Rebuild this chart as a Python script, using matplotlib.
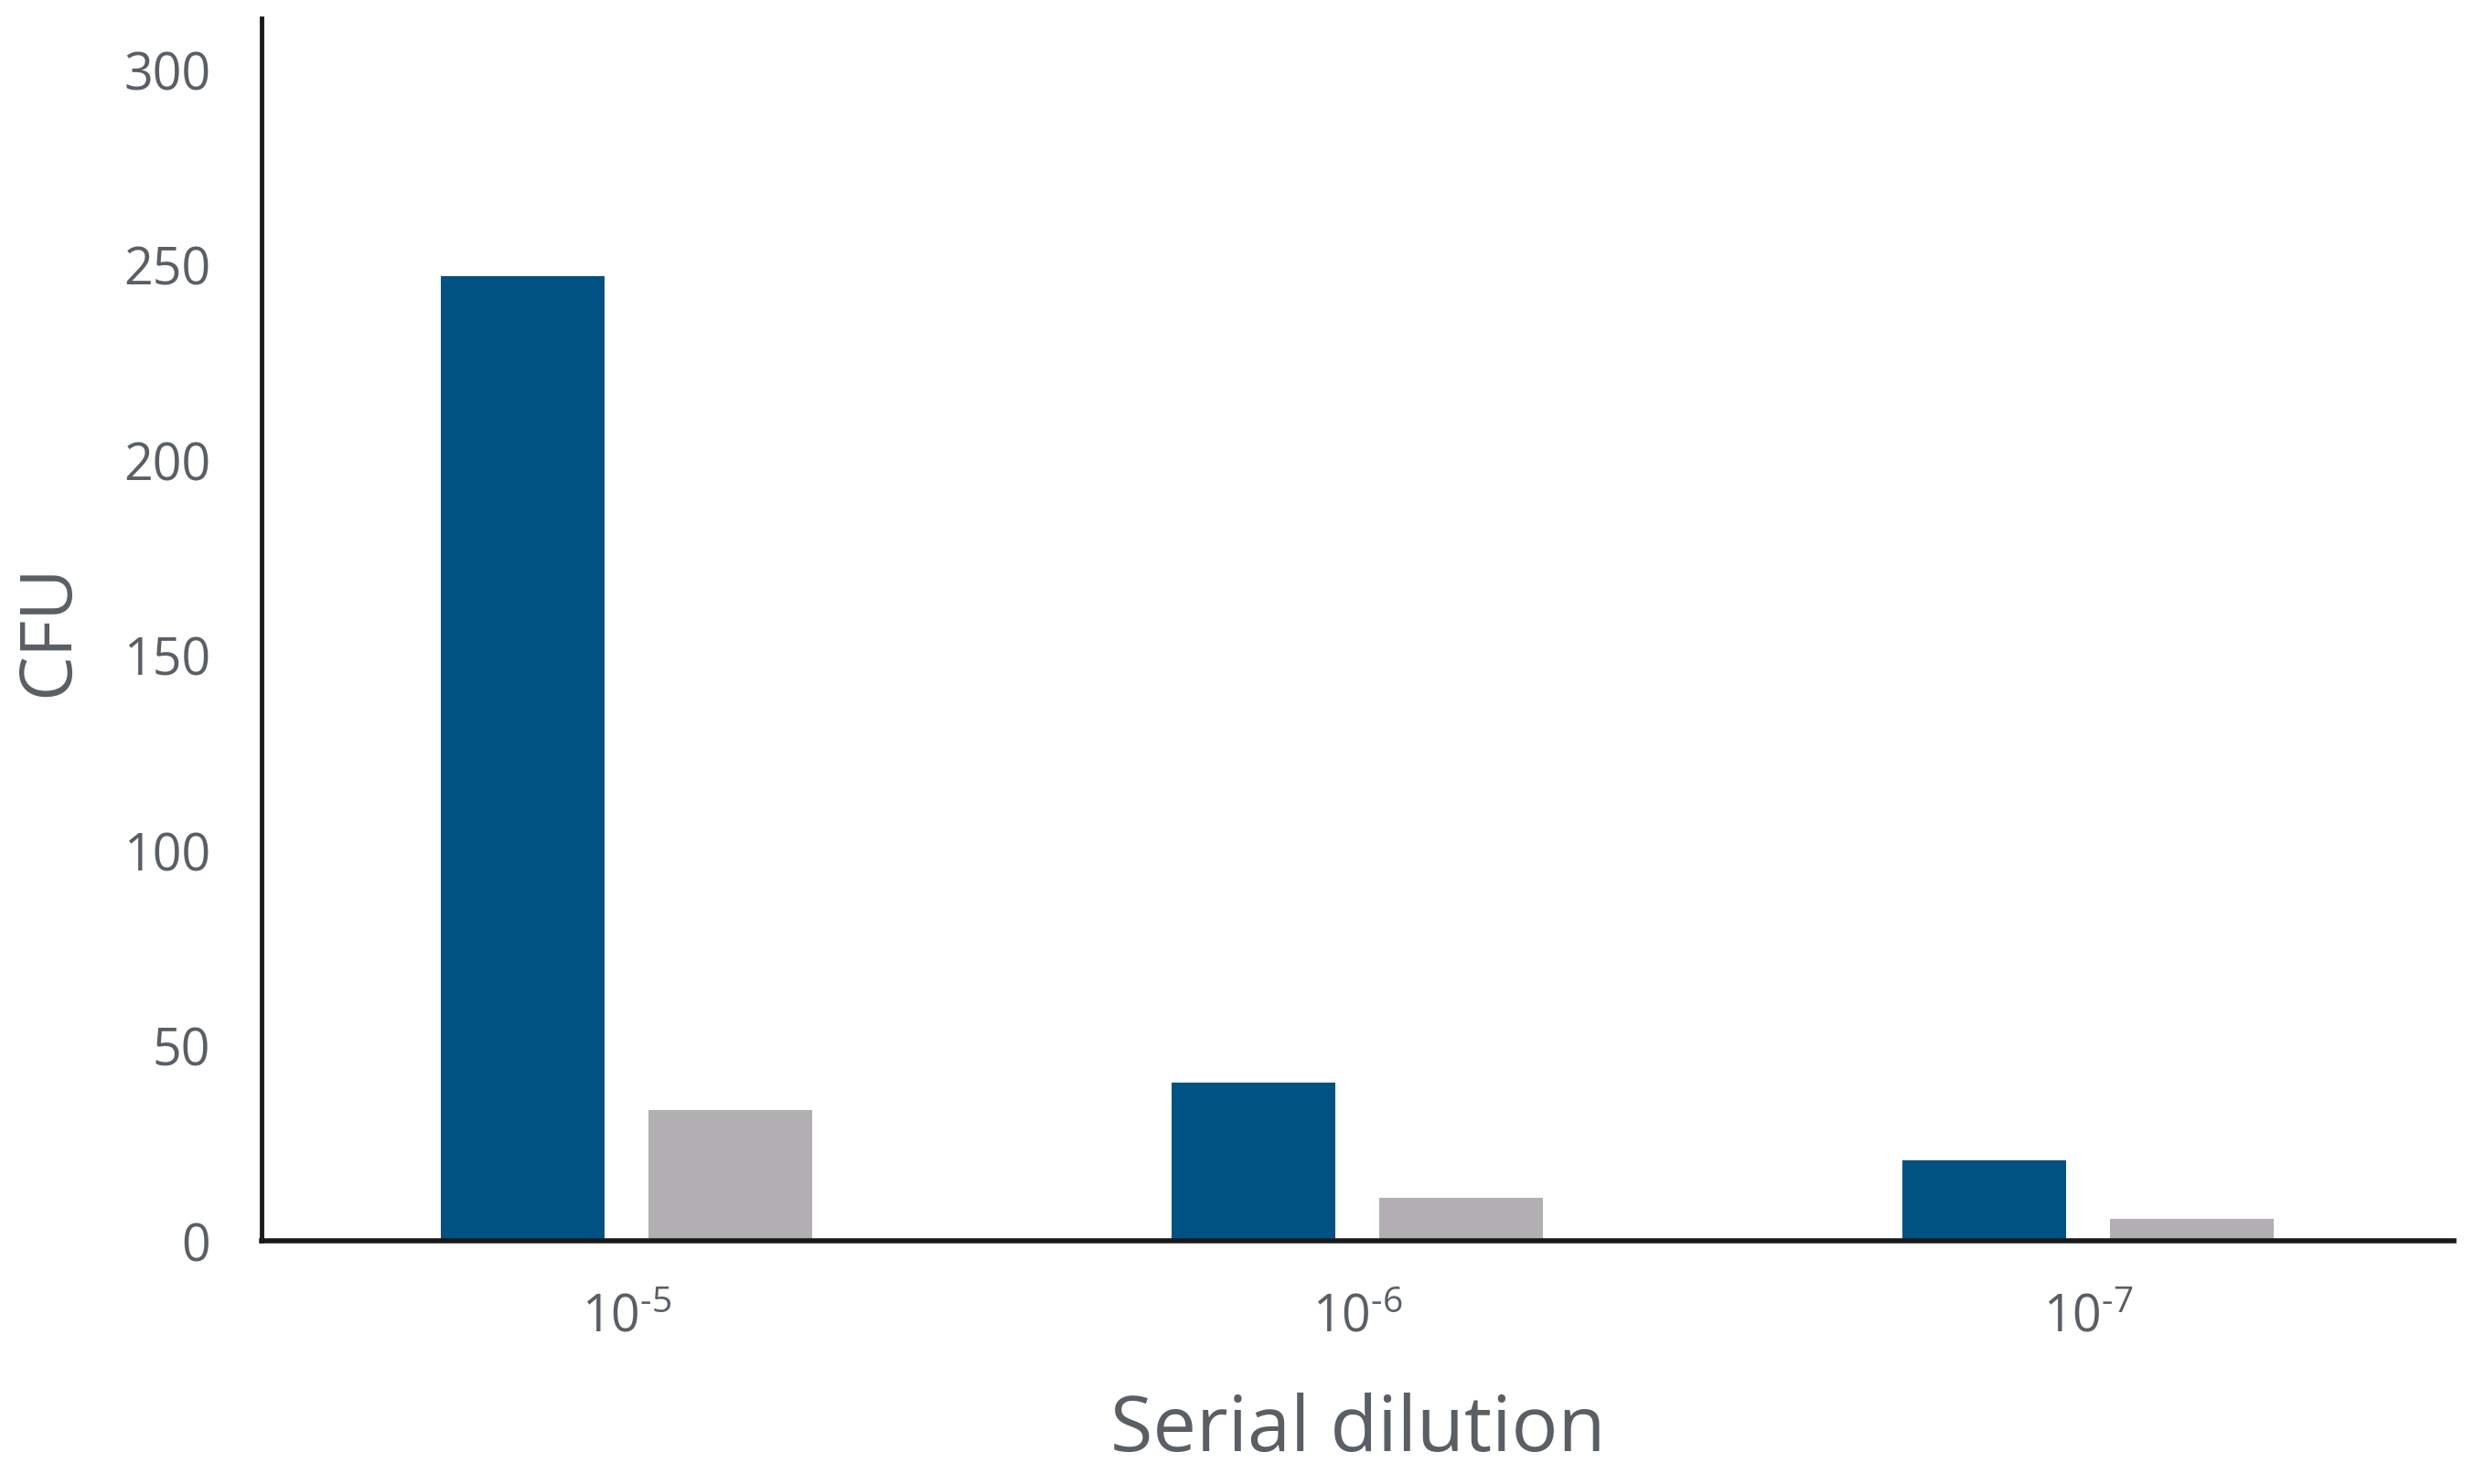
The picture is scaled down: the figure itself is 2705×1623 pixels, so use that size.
import matplotlib
matplotlib.use("Agg")
import matplotlib.pyplot as plt
import numpy as np

# data
dilutions = ["-5", "-6", "-7"]
series_a = [247, 40.5, 20.5]   # blue bars
series_b = [33.5, 11, 5.5]     # gray bars
yticks = [0, 50, 100, 150, 200, 250, 300]

blue = "#005283"
gray = "#b2afb2"
text_gray = "#595f64"

plt.rcParams["font.family"] = ["Open Sans", "DejaVu Sans"]
plt.rcParams["mathtext.fontset"] = "custom"
plt.rcParams["mathtext.rm"] = "Open Sans"
plt.rcParams["mathtext.it"] = "Open Sans"

fig = plt.figure(figsize=(27.05, 16.24), dpi=100)
ax = fig.add_axes([0.1057, 0.164, 0.886, 0.823])

x = np.arange(len(dilutions))
width = 0.224
ax.bar(x - 0.142, series_a, width, color=blue)
ax.bar(x + 0.142, series_b, width, color=gray)

ax.set_xlim(-0.5, 2.5)
ax.set_ylim(0, 313)
ax.set_yticks(yticks)
ax.set_xticks(x)
ax.set_xticklabels([r"$\mathregular{10^{\text{%s}}}$" % d for d in dilutions])

for side in ["top", "right"]:
    ax.spines[side].set_visible(False)
ax.spines["left"].set_linewidth(3.5)
ax.spines["bottom"].set_linewidth(4)
ax.spines["left"].set_color("#1a1a1a")
ax.spines["bottom"].set_color("#1a1a1a")

ax.tick_params(axis="y", length=0, pad=40, labelsize=40, labelcolor=text_gray)
ax.tick_params(axis="x", length=0, pad=40, labelsize=40, labelcolor=text_gray)

ax.set_ylabel("CFU", fontsize=56, color=text_gray, labelpad=30)
ax.set_xlabel("Serial dilution", fontsize=61, color=text_gray, labelpad=38)

fig.savefig("out.png", dpi=100)
